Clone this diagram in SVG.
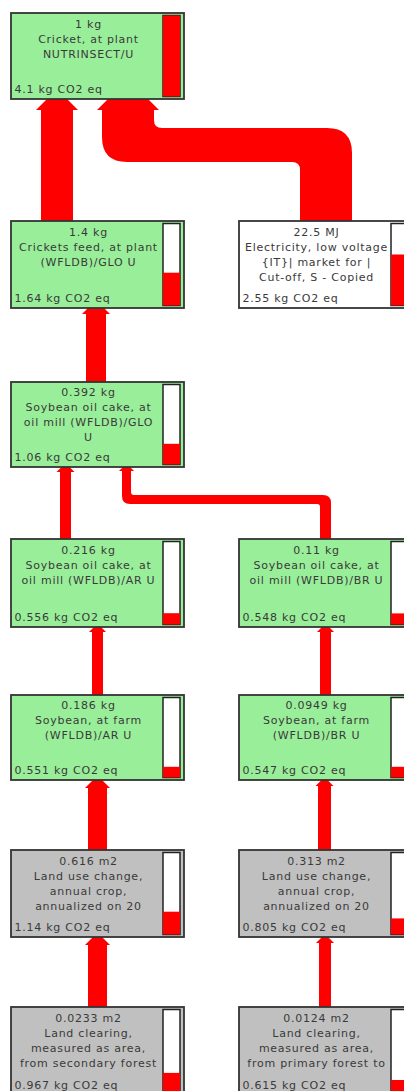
<svg xmlns="http://www.w3.org/2000/svg" width="404" height="1091" viewBox="0 0 404 1091">
<style>
.box{stroke:#333;stroke-width:1.8}
.g{fill:#99ee99}
.w{fill:#ffffff}
.s{fill:#c0c0c0}
.bar{fill:#fff;stroke:#222;stroke-width:1.5}
.red{fill:#ff0000}
.c{fill:#ff0000;stroke:none}
text{font-family:"DejaVu Sans","Liberation Sans",sans-serif;font-size:11px;fill:#3a3a3a;letter-spacing:0.75px}
.m{text-anchor:middle}
</style>
<rect width="404" height="1091" fill="#fff"/>
<g id="connectors">
<!-- A -->
<rect class="c" x="41" y="110" width="32" height="111"/>
<polygon class="c" points="47,99 67,99 78,110 36,110"/>
<!-- B -->
<path class="c" d="M102,110 V137 Q102,162 127,162 H292 Q300,162 300,170 V221 H352 V153 Q352,128 327,128 H162 Q154,128 154,120 V110 Z"/>
<polygon class="c" points="108,99 148,99 159,110 97,110"/>
<!-- C -->
<rect class="c" x="86" y="314" width="20" height="68"/>
<polygon class="c" points="88,308 104,308 110,314 82,314"/>
<!-- D1 -->
<rect class="c" x="60" y="472" width="11" height="67"/>
<polygon class="c" points="61.5,467 69.5,467 74.5,472 56.5,472"/>
<!-- D2 -->
<path class="c" d="M122,471 V496 Q122,504 130,504 H317 Q320,504 320,507 V539 H331 V503 Q331,495 323,495 H134 Q131,495 131,492 V471 Z"/>
<polygon class="c" points="123,467 130,467 134,471 119,471"/>
<!-- E1 -->
<rect class="c" x="92" y="632" width="11" height="63"/>
<polygon class="c" points="94,627 101,627 106,632 89,632"/>
<!-- E2 -->
<rect class="c" x="320" y="632" width="11" height="63"/>
<polygon class="c" points="322,627 329,627 334,632 317,632"/>
<!-- F1 -->
<rect class="c" x="88" y="788" width="19" height="62"/>
<polygon class="c" points="93,780 102,780 110,788 85,788"/>
<!-- F2 -->
<rect class="c" x="318" y="786" width="13" height="64"/>
<polygon class="c" points="321.5,780 327.5,780 333.5,786 315.5,786"/>
<!-- G1 -->
<rect class="c" x="88" y="945" width="19" height="62"/>
<polygon class="c" points="93,937 102,937 110,945 85,945"/>
<!-- G2 -->
<rect class="c" x="319" y="943" width="12" height="64"/>
<polygon class="c" points="322,937 328,937 334,943 316,943"/>
</g>

<g id="n1">
<rect class="box g" x="11" y="13" width="173" height="86"/>
<rect class="bar" x="163" y="15.5" width="17" height="81"/>
<rect class="red" x="163" y="15.5" width="17" height="81"/>
<text class="m" x="88.5" y="27.5">1 kg</text>
<text class="m" x="88.5" y="42.5">Cricket, at plant</text>
<text class="m" x="88.5" y="57.5">NUTRINSECT/U</text>
<text x="14.5" y="92.7">4.1 kg CO2 eq</text>
</g>

<g id="n2">
<rect class="box g" x="11" y="221" width="173" height="87"/>
<rect class="bar" x="163" y="223.5" width="17" height="82"/>
<rect class="red" x="163" y="272.7" width="17" height="32.8"/>
<text class="m" x="88.5" y="235.5">1.4 kg</text>
<text class="m" x="88.5" y="250.5">Crickets feed, at plant</text>
<text class="m" x="88.5" y="265.5">(WFLDB)/GLO U</text>
<text x="14.5" y="301.7">1.64 kg CO2 eq</text>
</g>

<g id="n3">
<rect class="box w" x="239" y="221" width="173" height="87"/>
<rect class="bar" x="391" y="223.5" width="17" height="82"/>
<rect class="red" x="391" y="254.5" width="17" height="51"/>
<text class="m" x="316.5" y="235.5">22.5 MJ</text>
<text class="m" x="316.5" y="250.5">Electricity, low voltage</text>
<text class="m" x="316.5" y="265.5">{IT}| market for |</text>
<text class="m" x="316.5" y="280.5">Cut-off, S - Copied</text>
<text x="242.5" y="301.7">2.55 kg CO2 eq</text>
</g>

<g id="n4">
<rect class="box g" x="11" y="382" width="173" height="85"/>
<rect class="bar" x="163" y="384.5" width="17" height="80"/>
<rect class="red" x="163" y="443.8" width="17" height="20.7"/>
<text class="m" x="88.5" y="396">0.392 kg</text>
<text class="m" x="88.5" y="411">Soybean oil cake, at</text>
<text class="m" x="88.5" y="426">oil mill (WFLDB)/GLO</text>
<text class="m" x="88.5" y="441">U</text>
<text x="14.5" y="460.7">1.06 kg CO2 eq</text>
</g>

<g id="n5">
<rect class="box g" x="11" y="539" width="173" height="88"/>
<rect class="bar" x="163" y="541.5" width="17" height="83"/>
<rect class="red" x="163" y="613.2" width="17" height="11.3"/>
<text class="m" x="88.5" y="554">0.216 kg</text>
<text class="m" x="88.5" y="569">Soybean oil cake, at</text>
<text class="m" x="88.5" y="584">oil mill (WFLDB)/AR U</text>
<text x="14.5" y="621">0.556 kg CO2 eq</text>
</g>

<g id="n6">
<rect class="box g" x="239" y="539" width="173" height="88"/>
<rect class="bar" x="391" y="541.5" width="17" height="83"/>
<rect class="red" x="391" y="613.4" width="17" height="11.1"/>
<text class="m" x="316.5" y="554">0.11 kg</text>
<text class="m" x="316.5" y="569">Soybean oil cake, at</text>
<text class="m" x="316.5" y="584">oil mill (WFLDB)/BR U</text>
<text x="242.5" y="621">0.548 kg CO2 eq</text>
</g>

<g id="n7">
<rect class="box g" x="11" y="695" width="173" height="85"/>
<rect class="bar" x="163" y="697.5" width="17" height="80"/>
<rect class="red" x="163" y="766.8" width="17" height="10.7"/>
<text class="m" x="88.5" y="708.5">0.186 kg</text>
<text class="m" x="88.5" y="724">Soybean, at farm</text>
<text class="m" x="88.5" y="739">(WFLDB)/AR U</text>
<text x="14.5" y="773.5">0.551 kg CO2 eq</text>
</g>

<g id="n8">
<rect class="box g" x="239" y="695" width="173" height="85"/>
<rect class="bar" x="391" y="697.5" width="17" height="80"/>
<rect class="red" x="391" y="766.8" width="17" height="10.7"/>
<text class="m" x="316.5" y="708.5">0.0949 kg</text>
<text class="m" x="316.5" y="724">Soybean, at farm</text>
<text class="m" x="316.5" y="739">(WFLDB)/BR U</text>
<text x="242.5" y="773.5">0.547 kg CO2 eq</text>
</g>

<g id="n9">
<rect class="box s" x="11" y="850" width="173" height="87"/>
<rect class="bar" x="163" y="852.5" width="17" height="82"/>
<rect class="red" x="163" y="911.7" width="17" height="22.8"/>
<text class="m" x="88.5" y="865">0.616 m2</text>
<text class="m" x="88.5" y="879.5">Land use change,</text>
<text class="m" x="88.5" y="894.5">annual crop,</text>
<text class="m" x="88.5" y="910">annualized on 20</text>
<text x="14.5" y="931">1.14 kg CO2 eq</text>
</g>

<g id="n10">
<rect class="box s" x="239" y="850" width="173" height="87"/>
<rect class="bar" x="391" y="852.5" width="17" height="82"/>
<rect class="red" x="391" y="918.4" width="17" height="16.1"/>
<text class="m" x="316.5" y="865">0.313 m2</text>
<text class="m" x="316.5" y="879.5">Land use change,</text>
<text class="m" x="316.5" y="894.5">annual crop,</text>
<text class="m" x="316.5" y="910">annualized on 20</text>
<text x="242.5" y="931">0.805 kg CO2 eq</text>
</g>

<g id="n11">
<rect class="box s" x="11" y="1007" width="173" height="88"/>
<rect class="bar" x="163" y="1009.5" width="17" height="83"/>
<rect class="red" x="163" y="1072.9" width="17" height="19.6"/>
<text class="m" x="88.5" y="1022">0.0233 m2</text>
<text class="m" x="88.5" y="1037">Land clearing,</text>
<text class="m" x="88.5" y="1052">measured as area,</text>
<text class="m" x="88.5" y="1067">from secondary forest</text>
<text x="14.5" y="1089">0.967 kg CO2 eq</text>
</g>

<g id="n12">
<rect class="box s" x="239" y="1007" width="173" height="88"/>
<rect class="bar" x="391" y="1009.5" width="17" height="83"/>
<rect class="red" x="391" y="1080" width="17" height="12.5"/>
<text class="m" x="316.5" y="1022">0.0124 m2</text>
<text class="m" x="316.5" y="1037">Land clearing,</text>
<text class="m" x="316.5" y="1052">measured as area,</text>
<text class="m" x="316.5" y="1067">from primary forest to</text>
<text x="242.5" y="1089">0.615 kg CO2 eq</text>
</g>
</svg>
